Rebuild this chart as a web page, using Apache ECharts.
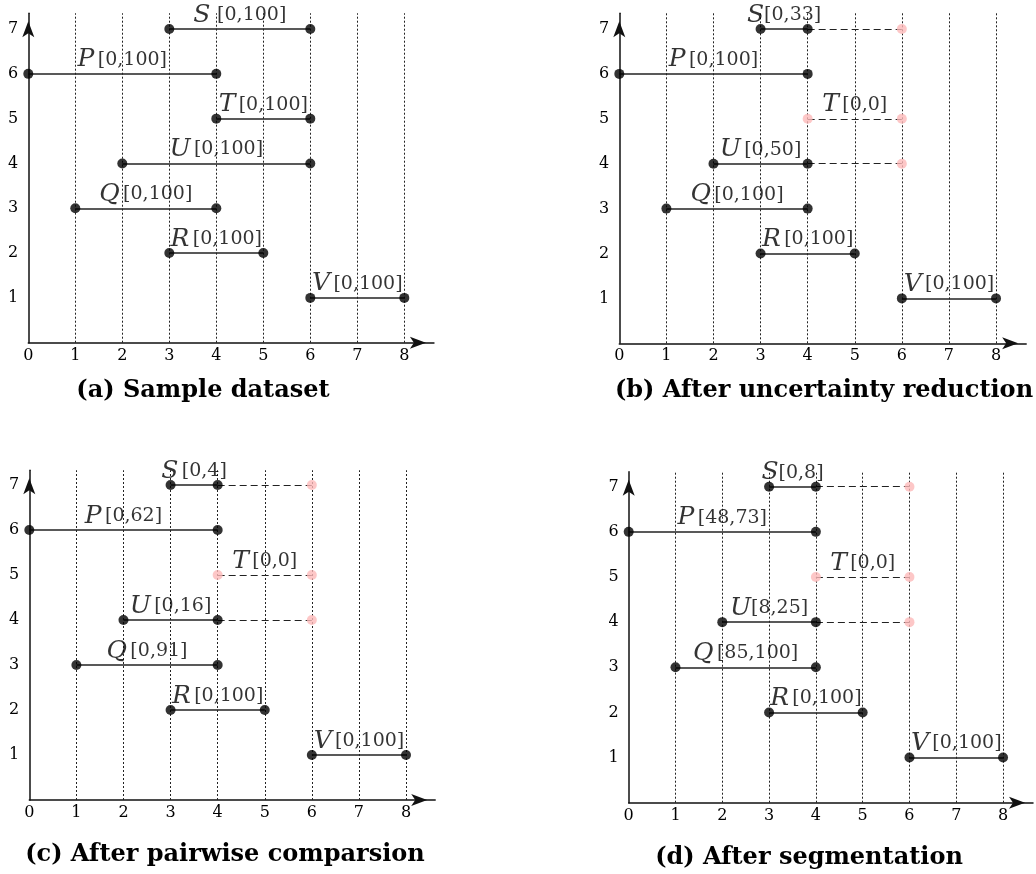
<!DOCTYPE html>
<html>
<head>
<meta charset="utf-8">
<title>Interval pruning stages</title>
<script src="https://cdn.jsdelivr.net/npm/echarts@6/dist/echarts.min.js"></script>
<style>
  html, body { margin: 0; padding: 0; background: #fff; }
  #chart { width: 1036px; height: 874px; }
</style>
</head>
<body>
<div id="chart"></div>
<script>
// Interval objects, one per row (top to bottom)
const names  = ['S', 'P', 'T', 'U', 'Q', 'R', 'V'];
const rows   = [7, 6, 5, 4, 3, 2, 1];
const starts = [3, 0, 4, 2, 1, 3, 6];
const ends   = [6, 4, 6, 6, 4, 5, 8];

// Where the still-valid (solid) part of each interval ends after pruning
const solidEndsFull   = [6, 4, 6, 6, 4, 5, 8];
const solidEndsPruned = [4, 4, 4, 4, 4, 5, 8];

// Score ranges attached to each interval at every stage
const rangesA = ['[0,100]', '[0,100]', '[0,100]', '[0,100]', '[0,100]', '[0,100]', '[0,100]'];
const rangesB = ['[0,33]',  '[0,100]', '[0,0]',   '[0,50]',  '[0,100]', '[0,100]', '[0,100]'];
const rangesC = ['[0,4]',   '[0,62]',  '[0,0]',   '[0,16]',  '[0,91]',  '[0,100]', '[0,100]'];
const rangesD = ['[0,8]',   '[48,73]', '[0,0]',   '[8,25]',  '[85,100]','[0,100]', '[0,100]'];

// Axis ticks
const xTicks = [0, 1, 2, 3, 4, 5, 6, 7, 8];
const yTicks = [1, 2, 3, 4, 5, 6, 7];
const gridLineX = [1, 2, 3, 4, 5, 6, 7, 8];

const captions = [
  '(a) Sample dataset',
  '(b) After uncertainty reduction',
  '(c) After pairwise comparsion',
  '(d) After segmentation'
];

// Panel layout: axis origin in pixels, pixel size of one unit, axis extents
const panels = [
  { left: 28.3,  axisY: 342.7, ux: 47.0,  uy: 44.81, xMax: 8.63, yMax: 7.35, solid: solidEndsFull,   ranges: rangesA, cap: [198, 386], gaps: ['  ', ' ', ' ', ' ', ' ', ' ', ' '] },
  { left: 619.3, axisY: 343.3, ux: 47.09, uy: 44.9,  xMax: 8.64, yMax: 7.35, solid: solidEndsPruned, ranges: rangesB, cap: [819, 386], gaps: ['', ' ', ' ', ' ', ' ', ' ', ' '] },
  { left: 29.3,  axisY: 800.0, ux: 47.09, uy: 45.0,  xMax: 8.62, yMax: 7.33, solid: solidEndsPruned, ranges: rangesC, cap: [220, 850], gaps: [' ', ' ', ' ', ' ', ' ', ' ', ' '] },
  { left: 628.7, axisY: 802.7, ux: 47.04, uy: 45.14, xMax: 8.64, yMax: 7.33, solid: solidEndsPruned, ranges: rangesD, cap: [804, 853], gaps: ['', ' ', ' ', '', ' ', ' ', ' '] }
];

const SERIF = '"DejaVu Serif", "Liberation Serif", serif';
const INK = '#000';
const PINK = '#fdb9b9';

const grids = [], xAxes = [], yAxes = [], series = [], titles = [];

panels.forEach((p, i) => {
  const h = p.uy * p.yMax;
  grids.push({ left: p.left, top: p.axisY - h, width: p.ux * p.xMax, height: h, containLabel: false });

  const axisLine = {
    show: true,
    symbol: ['none', 'arrow'],
    symbolSize: [9, 16],
    symbolOffset: [0, -8],
    lineStyle: { color: '#111', width: 1.5 }
  };

  xAxes.push({
    gridIndex: i, type: 'value', min: 0, max: p.xMax, interval: 1,
    axisLine: axisLine,
    axisTick: { show: false },
    splitLine: { show: false },
    axisLabel: {
      margin: 5, color: INK, fontFamily: SERIF, fontSize: 16,
      formatter: v => (xTicks.indexOf(v) >= 0 ? String(v) : '')
    }
  });
  yAxes.push({
    gridIndex: i, type: 'value', min: 0, max: p.yMax, interval: 1,
    axisLine: axisLine,
    axisTick: { show: false },
    splitLine: { show: false },
    axisLabel: {
      margin: 10, color: INK, fontFamily: SERIF, fontSize: 16,
      formatter: v => (yTicks.indexOf(v) >= 0 ? String(v) : '')
    }
  });

  // dotted vertical guides
  series.push({
    type: 'line', xAxisIndex: i, yAxisIndex: i, data: [], z: 1, silent: true,
    markLine: {
      silent: true, symbol: ['none', 'none'], animation: false,
      label: { show: false },
      lineStyle: { color: '#222', type: [2, 2], width: 1 },
      data: gridLineX.map(x => ({ xAxis: x }))
    }
  });

  const solidSegs = [], dashSegs = [], blackDots = [], pinkDots = [], labels = [];
  names.forEach((n, k) => {
    const y = rows[k], s = starts[k], e = ends[k], se = p.solid[k];
    if (se > s) {
      solidSegs.push({ coords: [[s, y], [se, y]] });
      blackDots.push([s, y], [se, y]);
    } else {
      pinkDots.push([s, y]);
    }
    if (se < e) {
      dashSegs.push({ coords: [[Math.max(se, s), y], [e, y]] });
      pinkDots.push([e, y]);
    }
    const mid = se > s ? (s + se) / 2 : (s + e) / 2;
    labels.push({ value: [mid, y], name: n, range: p.ranges[k], gap: p.gaps[k] });
  });

  series.push({
    type: 'lines', coordinateSystem: 'cartesian2d', xAxisIndex: i, yAxisIndex: i,
    polyline: false, z: 3, silent: true,
    lineStyle: { color: '#222', width: 1.5, opacity: 1 },
    data: solidSegs
  });
  series.push({
    type: 'lines', coordinateSystem: 'cartesian2d', xAxisIndex: i, yAxisIndex: i,
    polyline: false, z: 3, silent: true,
    lineStyle: { color: '#222', width: 1.2, type: [7, 4], opacity: 1 },
    data: dashSegs
  });
  series.push({
    type: 'scatter', xAxisIndex: i, yAxisIndex: i, z: 5, silent: true,
    symbol: 'circle', symbolSize: 10,
    itemStyle: { color: '#000' },
    data: blackDots
  });
  series.push({
    type: 'scatter', xAxisIndex: i, yAxisIndex: i, z: 5, silent: true,
    symbol: 'circle', symbolSize: 10,
    itemStyle: { color: PINK },
    data: pinkDots
  });
  series.push({
    type: 'scatter', xAxisIndex: i, yAxisIndex: i, z: 6, silent: true,
    symbolSize: 0,
    data: labels,
    label: {
      show: true, position: 'top', distance: 1,
      color: '#000',
      formatter: d => '{l|' + d.data.name + '}' + d.data.gap + '{b|' + d.data.range + '}',
      rich: {
        l: { fontFamily: SERIF, fontStyle: 'italic', fontSize: 25, color: '#000', lineHeight: 26 },
        b: { fontFamily: SERIF, fontSize: 19, color: '#000', lineHeight: 26 }
      }
    }
  });

  titles.push({
    text: captions[i],
    left: p.cap[0], top: p.cap[1],
    textAlign: 'center', textVerticalAlign: 'middle',
    textStyle: { fontFamily: SERIF, fontWeight: 'bold', fontSize: 24, color: '#000' }
  });
});

const chart = echarts.init(document.getElementById('chart'), null, { renderer: 'canvas' });
chart.setOption({
  animation: false,
  backgroundColor: '#fff',
  title: titles,
  grid: grids,
  xAxis: xAxes,
  yAxis: yAxes,
  series: series
});
</script>
</body>
</html>
